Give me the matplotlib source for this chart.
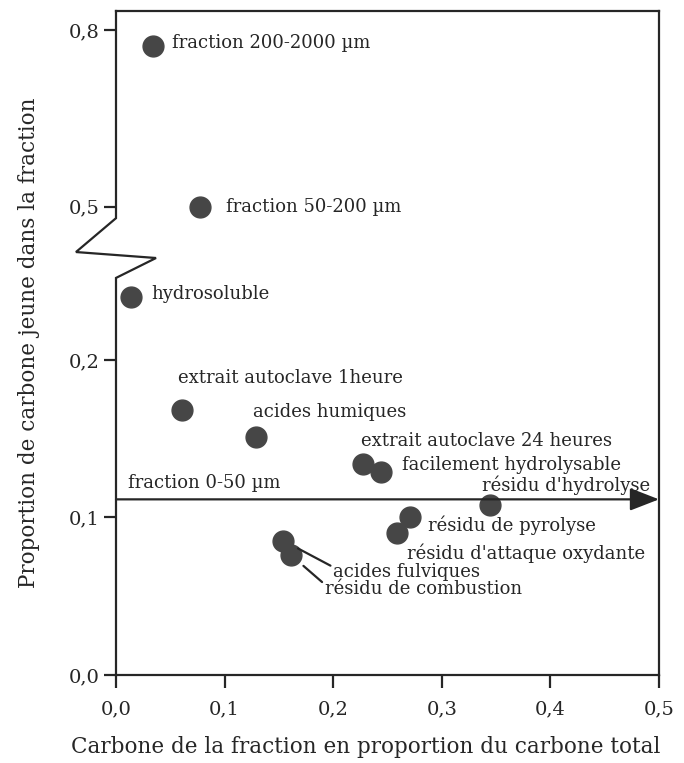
import numpy as np
import matplotlib
matplotlib.use("Agg")
import matplotlib.pyplot as plt

# ---- data ----
labels = ["fraction 200-2000 µm", "fraction 50-200 µm", "hydrosoluble",
          "extrait autoclave 1heure", "acides humiques", "extrait autoclave 24 heures",
          "facilement hydrolysable", "résidu d'hydrolyse", "résidu de pyrolyse",
          "résidu d'attaque oxydante", "acides fulviques", "résidu de combustion"]
x_vals = [0.034, 0.077, 0.014, 0.0605, 0.1286, 0.227, 0.244, 0.344, 0.2707, 0.2585, 0.154, 0.161]
y_vals = [0.773, 0.500, 0.240, 0.168, 0.151, 0.134, 0.129, 0.108, 0.1005, 0.090, 0.0853, 0.0762]
fraction_0_50 = 0.1115
x_ticks = [0.0, 0.1, 0.2, 0.3, 0.4, 0.5]
x_ticklabels = ["0,0", "0,1", "0,2", "0,3", "0,4", "0,5"]
y_ticks = [0.0, 0.1, 0.2, 0.5, 0.8]
y_ticklabels = ["0,0", "0,1", "0,2", "0,5", "0,8"]

# label offsets (pixels) relative to the marker
offsets = [(19, 3), (26, 0), (20, 3), (-4, 32), (-3, 25), (-2, 23), (21, 7),
           (-8, 20), (18, -9), (10, -20), (50, -31), (34, -34)]
leader = [False] * 10 + [True, True]

# ---- broken axis scale ----
Y_BRK = np.array([0.0, 0.252, 0.481, 1.0])
T_BRK = np.array([0.0, 397.0, 457.0, 457.0 + 0.519 * 589.0])

def fwd(y):
    y = np.asarray(y, dtype=float)
    return np.where(y < 0, y * 1575.0,
                    np.where(y > 1, T_BRK[-1] + (y - 1) * 589.0, np.interp(y, Y_BRK, T_BRK)))

def inv(t):
    t = np.asarray(t, dtype=float)
    return np.where(t < 0, t / 1575.0,
                    np.where(t > T_BRK[-1], 1 + (t - T_BRK[-1]) / 589.0, np.interp(t, T_BRK, Y_BRK)))

INK = "#262626"
DOT = "#464646"
plt.rcParams['font.family'] = ['DejaVu Serif', 'DejaVu Sans']

fig = plt.figure(figsize=(6.84, 7.63), dpi=100)
ax = fig.add_axes([116 / 684, 88 / 763, 543 / 684, 664 / 763])
ax.set_yscale('function', functions=(fwd, inv))
ax.set_xlim(0, 0.5)
ax.set_ylim(0, 0.8325)

ax.plot(x_vals, y_vals, 'o', ms=15, color=DOT, mec=DOT, zorder=3, clip_on=False)

FS = 13
for lab, x, y, (dx, dy), ld in zip(labels, x_vals, y_vals, offsets, leader):
    if ld:
        ax.annotate(lab, xy=(x, y), xytext=(dx * 0.72, dy * 0.72), textcoords='offset points',
                    ha='left', va='center', fontsize=FS, color=INK,
                    arrowprops=dict(arrowstyle='-', color=INK, lw=1.6,
                                    relpos=(0, 0.75), shrinkA=0, shrinkB=12))
    else:
        ax.annotate(lab, xy=(x, y), xytext=(dx * 0.72, dy * 0.72), textcoords='offset points',
                    ha='left', va='center', fontsize=FS, color=INK)

# horizontal arrow: fraction 0-50 µm
ax.annotate('', xy=(0.5, fraction_0_50), xytext=(0, fraction_0_50),
            arrowprops=dict(arrowstyle='-|>,head_length=0.9,head_width=0.35', color=INK, lw=1.6,
                            shrinkA=0, shrinkB=0, mutation_scale=20))
ax.annotate("fraction 0-50 µm", xy=(0.011, fraction_0_50), xytext=(0, 16 * 0.72),
            textcoords='offset points', ha='left', va='center', fontsize=FS, color=INK)

# spines (left spine drawn with a break)
for s in ['top', 'right', 'bottom']:
    ax.spines[s].set_linewidth(1.6)
    ax.spines[s].set_color(INK)
ax.spines['left'].set_visible(False)
ax.plot([0, 0, 0.0737, -0.0737, 0, 0], [0, 0.598, 0.628, 0.637, 0.688, 1.0],
        transform=ax.transAxes, color=INK, lw=1.6, clip_on=False,
        solid_joinstyle='miter', zorder=4)

ax.set_xticks(x_ticks)
ax.set_xticklabels(x_ticklabels)
ax.set_yticks(y_ticks)
ax.set_yticklabels(y_ticklabels)
ax.yaxis.set_minor_locator(matplotlib.ticker.NullLocator())
ax.tick_params(axis='both', direction='out', length=9, width=1.6, color=INK,
               labelsize=14, labelcolor=INK)
ax.tick_params(axis='x', pad=9)
ax.tick_params(axis='y', pad=3)

ax.set_xlabel("Carbone de la fraction en proportion du carbone total", fontsize=15.5, color=INK)
ax.set_ylabel("Proportion de carbone jeune dans la fraction", fontsize=15.5, color=INK)
ax.xaxis.set_label_coords(0.46, -0.092)
ax.yaxis.set_label_coords(-0.14, 0.5)

fig.savefig("out.png", dpi=100)
